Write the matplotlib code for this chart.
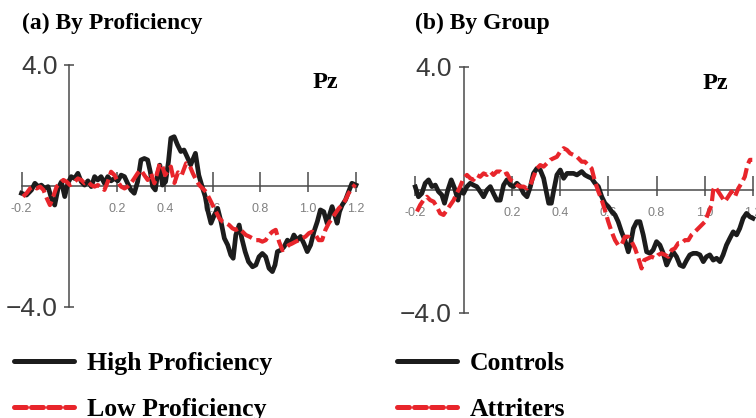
import numpy as np
import matplotlib.pyplot as plt
from matplotlib.lines import Line2D

# ---- data (time in s, amplitude in microvolts) ----
t_high = [-0.200, -0.179, -0.158, -0.144, -0.130, -0.117, -0.103, -0.089, -0.075, -0.061,
          -0.047, -0.033, -0.019, -0.006, 0.008, 0.022, 0.036, 0.050, 0.064, 0.078,
          0.092, 0.106, 0.119, 0.133, 0.147, 0.161, 0.175, 0.189, 0.203, 0.217,
          0.231, 0.244, 0.258, 0.272, 0.286, 0.300, 0.314, 0.328, 0.339, 0.349,
          0.360, 0.369, 0.379, 0.390, 0.403, 0.415, 0.425, 0.439, 0.453, 0.467,
          0.480, 0.494, 0.508, 0.528, 0.542, 0.556, 0.569, 0.579, 0.593, 0.607,
          0.621, 0.635, 0.649, 0.663, 0.676, 0.686, 0.697, 0.711, 0.722, 0.736,
          0.750, 0.767, 0.781, 0.794, 0.808, 0.822, 0.836, 0.850, 0.861, 0.871,
          0.885, 0.899, 0.913, 0.926, 0.940, 0.954, 0.968, 0.982, 0.996, 1.010,
          1.024, 1.038, 1.051, 1.065, 1.079, 1.089, 1.100, 1.111, 1.121, 1.131,
          1.142, 1.156, 1.169, 1.183, 1.200]
v_high = [-0.24, -0.30, -0.13, 0.09, -0.02, 0.03, -0.08, -0.02, -0.40, -0.63,
          -0.08, 0.14, -0.35, 0.09, 0.31, 0.25, 0.42, 0.14, 0.03, 0.17,
          -0.02, 0.31, 0.20, 0.31, 0.09, 0.31, 0.17, 0.25, 0.17, 0.36,
          0.31, 0.09, -0.13, -0.24, 0.14, 0.86, 0.91, 0.86, 0.47, -0.02,
          -0.13, 0.36, 0.69, 0.03, 0.14, 0.80, 1.58, 1.63, 1.36, 1.14,
          1.19, 0.95, 0.70, 1.08, 0.36, -0.02, -0.35, -0.79, -1.23, -0.96,
          -0.74, -1.18, -1.73, -1.95, -2.28, -2.39, -1.62, -1.29, -1.73, -2.17,
          -2.50, -2.67, -2.61, -2.34, -2.23, -2.34, -2.72, -2.83, -2.61, -2.17,
          -2.12, -2.01, -1.79, -1.90, -1.62, -1.79, -1.67, -1.90, -2.17, -1.95,
          -1.51, -1.18, -0.79, -0.85, -1.23, -0.96, -0.68, -0.96, -1.23, -0.85,
          -0.63, -0.46, -0.19, 0.09, 0.03]

t_low = [-0.194, -0.179, -0.164, -0.150, -0.136, -0.122, -0.108, -0.094, -0.081, -0.067,
         -0.053, -0.039, -0.025, -0.011, 0.003, 0.022, 0.036, 0.050, 0.064, 0.078,
         0.092, 0.106, 0.119, 0.133, 0.147, 0.161, 0.175, 0.189, 0.203, 0.217,
         0.231, 0.244, 0.258, 0.272, 0.286, 0.300, 0.314, 0.328, 0.342, 0.356,
         0.369, 0.379, 0.390, 0.401, 0.411, 0.425, 0.440, 0.455, 0.470, 0.489,
         0.503, 0.517, 0.531, 0.544, 0.558, 0.572, 0.586, 0.600, 0.614, 0.628,
         0.642, 0.656, 0.669, 0.683, 0.697, 0.711, 0.725, 0.739, 0.753, 0.767,
         0.781, 0.794, 0.808, 0.822, 0.836, 0.850, 0.864, 0.878, 0.892, 0.906,
         0.919, 0.933, 0.947, 0.961, 0.975, 0.989, 1.003, 1.017, 1.031, 1.044,
         1.058, 1.072, 1.086, 1.100, 1.114, 1.128, 1.142, 1.156, 1.169, 1.183,
         1.197]
v_low = [-0.35, -0.24, -0.08, -0.02, -0.08, -0.02, -0.13, -0.41, -0.63, -0.35,
         -0.02, 0.09, 0.20, 0.14, 0.03, 0.14, 0.25, 0.20, 0.09, 0.14,
         0.03, -0.02, 0.03, -0.02, -0.13, 0.14, 0.47, 0.36, 0.14, -0.02,
         -0.08, -0.02, 0.09, 0.25, 0.42, 0.53, 0.36, 0.20, 0.42, 0.09,
         0.47, 0.75, 0.64, 0.36, 0.47, 0.64, 0.10, 0.45, 0.35, 0.75,
         0.69, 0.42, 0.20, 0.03, -0.08, -0.19, -0.41, -0.63, -0.85, -1.07,
         -1.18, -1.23, -1.29, -1.40, -1.45, -1.40, -1.51, -1.62, -1.67, -1.73,
         -1.79, -1.79, -1.84, -1.79, -1.62, -1.51, -1.45, -1.84, -2.12, -2.06,
         -1.95, -1.90, -1.84, -1.79, -1.73, -1.67, -1.56, -1.51, -1.62, -1.79,
         -1.79, -1.45, -1.23, -1.07, -0.90, -0.74, -0.63, -0.46, -0.24, -0.08,
         0.05]

t_ctrl = [-0.200, -0.187, -0.173, -0.159, -0.145, -0.131, -0.117, -0.104, -0.090, -0.079,
          -0.065, -0.051, -0.037, -0.023, -0.014, 0.000, 0.014, 0.028, 0.041, 0.055,
          0.069, 0.083, 0.097, 0.111, 0.124, 0.138, 0.152, 0.166, 0.180, 0.194,
          0.208, 0.221, 0.235, 0.249, 0.263, 0.277, 0.290, 0.304, 0.318, 0.332,
          0.343, 0.353, 0.364, 0.373, 0.387, 0.401, 0.415, 0.429, 0.442, 0.456,
          0.470, 0.490, 0.503, 0.517, 0.531, 0.545, 0.559, 0.573, 0.586, 0.600,
          0.614, 0.628, 0.641, 0.655, 0.669, 0.683, 0.694, 0.704, 0.718, 0.731,
          0.745, 0.759, 0.773, 0.786, 0.800, 0.814, 0.828, 0.842, 0.855, 0.869,
          0.883, 0.897, 0.911, 0.925, 0.938, 0.952, 0.966, 0.980, 0.994, 1.007,
          1.021, 1.035, 1.049, 1.063, 1.076, 1.090, 1.104, 1.118, 1.132, 1.145,
          1.159, 1.173, 1.187, 1.200]
v_ctrl = [0.10, -0.22, -0.11, 0.22, 0.33, 0.11, 0.16, -0.05, -0.16, -0.43,
          0.00, 0.33, 0.05, -0.33, 0.05, -0.11, 0.11, 0.22, 0.16, 0.11,
          -0.05, -0.22, 0.00, 0.11, -0.11, -0.33, -0.33, 0.16, 0.33, 0.16,
          0.11, 0.22, 0.11, -0.11, -0.22, 0.11, 0.54, 0.70, 0.65, 0.38,
          -0.05, -0.43, -0.43, -0.05, 0.49, 0.65, 0.38, 0.54, 0.54, 0.54,
          0.49, 0.60, 0.49, 0.43, 0.38, 0.22, 0.11, -0.22, -0.43, -0.54,
          -0.70, -0.81, -1.03, -1.36, -1.63, -2.01, -1.68, -1.25, -1.03, -1.03,
          -1.46, -2.01, -2.06, -1.95, -1.68, -1.79, -2.06, -2.44, -2.22, -2.01,
          -2.17, -2.44, -2.49, -2.28, -2.11, -2.06, -2.06, -2.11, -2.33, -2.17,
          -2.11, -2.28, -2.22, -2.33, -2.11, -1.79, -1.57, -1.36, -1.46, -1.25,
          -0.92, -0.76, -0.87, -0.92]

t_attr = [-0.193, -0.180, -0.166, -0.152, -0.138, -0.124, -0.111, -0.097, -0.083, -0.069,
          -0.055, -0.041, -0.028, -0.014, 0.000, 0.014, 0.028, 0.041, 0.055, 0.069,
          0.083, 0.097, 0.111, 0.124, 0.138, 0.152, 0.166, 0.180, 0.194, 0.208,
          0.221, 0.235, 0.249, 0.263, 0.277, 0.290, 0.304, 0.318, 0.332, 0.346,
          0.360, 0.373, 0.387, 0.401, 0.415, 0.429, 0.442, 0.456, 0.470, 0.490,
          0.503, 0.517, 0.531, 0.545, 0.559, 0.573, 0.586, 0.600, 0.614, 0.628,
          0.641, 0.655, 0.669, 0.683, 0.697, 0.711, 0.725, 0.738, 0.749, 0.766,
          0.780, 0.794, 0.807, 0.821, 0.835, 0.849, 0.863, 0.876, 0.890, 0.904,
          0.918, 0.932, 0.945, 0.959, 0.973, 0.987, 1.001, 1.014, 1.028, 1.035,
          1.042, 1.056, 1.070, 1.083, 1.097, 1.111, 1.125, 1.139, 1.152, 1.166,
          1.177, 1.187, 1.197]
v_attr = [-0.70, -0.49, -0.33, -0.22, -0.33, -0.38, -0.54, -0.76, -0.81, -0.65,
          -0.49, -0.33, -0.11, 0.11, 0.38, 0.49, 0.38, 0.33, 0.49, 0.43,
          0.54, 0.49, 0.60, 0.49, 0.60, 0.60, 0.49, 0.54, 0.33, 0.27,
          0.16, 0.11, 0.11, 0.05, 0.16, 0.43, 0.70, 0.81, 0.76, 0.87,
          0.98, 1.03, 1.08, 1.25, 1.36, 1.30, 1.19, 1.14, 1.08, 0.92,
          0.92, 0.81, 0.70, 0.27, -0.05, -0.33, -0.65, -1.03, -1.36, -1.63,
          -1.79, -1.79, -1.52, -1.52, -1.68, -1.90, -2.22, -2.55, -2.28, -2.22,
          -2.17, -2.22, -2.11, -2.06, -2.11, -2.17, -1.95, -1.90, -1.73, -1.73,
          -1.63, -1.63, -1.46, -1.36, -1.25, -1.14, -1.03, -0.76, -0.49, 0.00,
          0.11, -0.05, -0.22, -0.38, -0.22, -0.05, -0.22, 0.05, 0.22, 0.43,
          0.81, 0.98, 0.98]

xticks = [-0.2, 0.2, 0.4, 0.6, 0.8, 1.0, 1.2]
xticklabels = ['-0.2', '0.2', '0.4', '0.6', '0.8', '1.0', '1.2']
yticks = [-4, 4]
yticklabels = ['\u22124.0', '4.0']

W, H = 756, 418
BLACK = '#1c1c1c'
RED = '#e8252b'
AXC = '#4a4a4a'
serif = 'Liberation Serif'
sans = 'Liberation Sans'

fig = plt.figure(figsize=(W / 100, H / 100), dpi=100)


def px_axes(x0, x1, ytop, ybot):
    return fig.add_axes([x0 / W, 1 - ybot / H, (x1 - x0) / W, (ybot - ytop) / H])


def style(ax):
    ax.set_xlim(-0.2, 1.2)
    ax.set_ylim(-4, 4)
    for s in ['top', 'right']:
        ax.spines[s].set_visible(False)
    ax.spines['left'].set_position(('data', 0))
    ax.spines['bottom'].set_position(('data', 0))
    for s in ['left', 'bottom']:
        ax.spines[s].set_color(AXC)
        ax.spines[s].set_linewidth(1.1)
        ax.spines[s].set_zorder(0.5)
    ax.set_axisbelow(True)
    ax.xaxis.remove_overlapping_locs = False
    ax.set_xticks(xticks)
    ax.set_xticklabels(xticklabels, fontfamily=sans, fontsize=9, color='#808080')
    ax.set_xticks(xticks, minor=True)
    ax.tick_params(axis='x', which='major', direction='in', length=10, width=1.1,
                   color=AXC, pad=12.5)
    ax.tick_params(axis='x', which='minor', direction='out', length=4, width=1.1,
                   color=AXC)
    ax.set_yticks(yticks)
    ax.set_yticklabels(yticklabels, fontfamily=sans, fontsize=19, color='#3a3a3a')
    ax.tick_params(axis='y', direction='inout', length=7, width=1.1, color=AXC, pad=5)
    ax.patch.set_visible(False)


def draw(ax, t1, v1, l1, t2, v2, l2):
    h1, = ax.plot(t1, v1, color=BLACK, lw=3.4, clip_on=False, zorder=3,
                  solid_joinstyle='round', label=l1)
    h2, = ax.plot(t2, v2, color=RED, lw=3.0, ls=(0, (3.0, 1.2)), clip_on=False,
                  zorder=4, label=l2)
    return h1, h2


ax1 = px_axes(21.5, 356, 65, 307)
style(ax1)
ha1 = draw(ax1, t_high, v_high, 'High Proficiency', t_low, v_low, 'Low Proficiency')

ax2 = px_axes(415.3, 753, 67, 313)
style(ax2)
ha2 = draw(ax2, t_ctrl, v_ctrl, 'Controls', t_attr, v_attr, 'Attriters')

# titles and electrode labels
fig.text(22 / W, 1 - 29 / H, '(a) By Proficiency', fontfamily=serif, fontweight='bold',
         fontsize=17, va='baseline', ha='left')
fig.text(415 / W, 1 - 29 / H, '(b) By Group', fontfamily=serif, fontweight='bold',
         fontsize=17, va='baseline', ha='left')
fig.text(313 / W, 1 - 88 / H, 'Pz', fontfamily=serif, fontweight='bold',
         fontsize=17.5, va='baseline', ha='left')
fig.text(703 / W, 1 - 89 / H, 'Pz', fontfamily=serif, fontweight='bold',
         fontsize=17.5, va='baseline', ha='left')

# legends
for handles, x0 in [(ha1, 14), (ha2, 397)]:
    proxies = [Line2D([], [], color=BLACK, lw=3.6, solid_capstyle='round'),
               Line2D([], [], color=RED, lw=3.6, ls=(0, (2.4, 1.0)),
                      dash_capstyle='round')]
    leg = fig.legend(proxies, [h.get_label() for h in handles],
                     loc='upper left', bbox_to_anchor=(x0 / W, 1 - 352 / H),
                     frameon=False, handlelength=2.35, handletextpad=0.5,
                     labelspacing=0.9, borderpad=0, borderaxespad=0,
                     prop={'family': serif, 'weight': 'bold', 'size': 18.5})

fig.savefig('out.png', dpi=100)
